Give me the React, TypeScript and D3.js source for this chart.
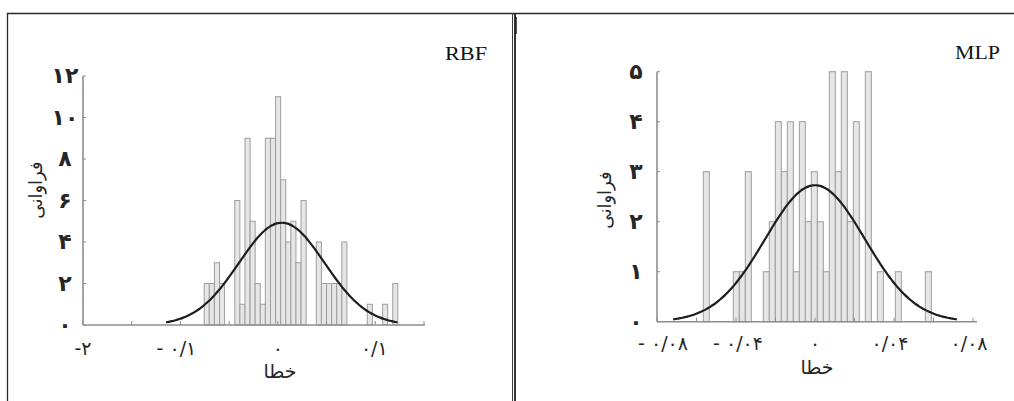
import React, { useEffect, useRef } from 'react';
import * as d3 from 'd3';

// RBF panel: error histogram counts per bin
const rbfCounts = [2, 2, 3, 2, 0, 0, 6, 1, 9, 5, 2, 1, 9, 9, 11, 7, 4, 5, 3, 6, 0, 0, 4, 2, 2, 2, 2, 4, 0, 0, 0, 0, 1, 0, 0, 1, 0, 2];
const rbfBinStart = -0.0756;
const rbfBinWidth = 0.00523;
const rbfYTicks = [0, 2, 4, 6, 8, 10, 12];
const rbfYTickLabels = ['۰', '۲', '۴', '۶', '۸', '۱۰', '۱۲'];
const rbfXTicks = [-0.2, -0.1, 0, 0.1];
const rbfXTickLabels = ['-۲', '- ۰/۱', '۰', '۰/۱'];
const rbfNormal = { mean: 0.004, sd: 0.044, peak: 4.93, span: 2.7 };

// MLP panel
const mlpCounts = [3, 0, 0, 0, 0, 1, 1, 3, 0, 0, 1, 2, 4, 3, 4, 1, 4, 2, 3, 2, 1, 5, 3, 5, 2, 4, 0, 5, 0, 1, 0, 0, 1, 0, 0, 0, 0, 1];
const mlpBinStart = -0.05656;
const mlpBinWidth = 0.003038;
const mlpYTicks = [0, 1, 2, 3, 4, 5];
const mlpYTickLabels = ['۰', '۱', '۲', '۳', '۴', '۵'];
const mlpXTicks = [-0.08, -0.04, 0, 0.04, 0.08];
const mlpXTickLabels = ['- ۰/۰۸', '- ۰/۰۴', '۰', '۰/۰۴', '۰/۰۸'];
const mlpNormal = { mean: 0, sd: 0.0252, peak: 2.73, span: 2.85 };

const FA_FONT = '"DejaVu Sans", sans-serif';
const TEXT = '#262626';

function drawPanel(svg: any, cfg: any) {
  const x = d3.scaleLinear().domain(cfg.xDomain).range(cfg.xRange);
  const y = d3.scaleLinear().domain(cfg.yDomain).range(cfg.yRange);
  const g = svg.append('g');

  // bars
  const bw = x(cfg.binWidth) - x(0);
  g.selectAll('.bar')
    .data(cfg.counts.map((c: number, i: number) => ({ c, x0: cfg.binStart + i * cfg.binWidth })).filter((d: any) => d.c > 0))
    .enter()
    .append('rect')
    .attr('x', (d: any) => x(d.x0))
    .attr('y', (d: any) => y(d.c))
    .attr('width', bw)
    .attr('height', (d: any) => y(0) - y(d.c))
    .attr('fill', '#e6e6e6')
    .attr('stroke', '#9e9e9e')
    .attr('stroke-width', 1);

  // axes
  const [x0, x1] = cfg.xRange;
  const [yb, yt] = cfg.yRange;
  g.append('line').attr('x1', x0).attr('x2', x1).attr('y1', yb).attr('y2', yb)
    .attr('stroke', '#8f8f8f').attr('stroke-width', 1.6);
  g.append('line').attr('x1', x0).attr('x2', x0).attr('y1', yb).attr('y2', yt)
    .attr('stroke', '#8f8f8f').attr('stroke-width', 1.6);

  // minor x ticks (pointing up)
  g.selectAll('.xt')
    .data(d3.range(cfg.xDomain[0], cfg.xDomain[1] + 1e-9, cfg.minorStep))
    .enter()
    .append('line')
    .attr('x1', (d: number) => x(d)).attr('x2', (d: number) => x(d))
    .attr('y1', yb).attr('y2', yb - 4)
    .attr('stroke', '#8f8f8f').attr('stroke-width', 1);

  // y ticks (pointing right)
  g.selectAll('.yt')
    .data(cfg.yTicks)
    .enter()
    .append('line')
    .attr('x1', x0).attr('x2', x0 + 3)
    .attr('y1', (d: number) => y(d)).attr('y2', (d: number) => y(d))
    .attr('stroke', '#8f8f8f').attr('stroke-width', 1);

  // normal curve
  const n = cfg.normal;
  const pts = d3.range(0, 121).map((k) => n.mean - n.span * n.sd + (k * 2 * n.span * n.sd) / 120);
  const line = d3.line<number>()
    .x((d) => x(d))
    .y((d) => y(n.peak * Math.exp(-0.5 * ((d - n.mean) / n.sd) ** 2)))
    .curve(d3.curveBasis);
  g.append('path')
    .datum(pts)
    .attr('fill', 'none')
    .attr('stroke', '#1e1e1e')
    .attr('stroke-width', 2.2)
    .attr('d', line);

  // y tick labels
  g.selectAll('.yl')
    .data(cfg.yTicks)
    .enter()
    .append('text')
    .attr('x', cfg.yLabelX)
    .attr('y', (d: number) => y(d) + 7)
    .attr('text-anchor', 'middle')
    .style('font-family', FA_FONT)
    .style('font-size', '22px')
    .style('font-weight', 'bold')
    .attr('fill', TEXT)
    .text((_: number, i: number) => cfg.yTickLabels[i]);

  // x tick labels
  g.selectAll('.xl')
    .data(cfg.xTicks)
    .enter()
    .append('text')
    .attr('x', (d: number, i: number) => x(d) + (cfg.xLabelDx ? cfg.xLabelDx[i] : 0))
    .attr('y', cfg.xLabelY)
    .attr('text-anchor', 'middle')
    .attr('direction', 'ltr')
    .style('font-family', FA_FONT)
    .style('font-size', '19px')
    .attr('fill', TEXT)
    .text((_: number, i: number) => cfg.xTickLabels[i]);

  // axis titles
  g.append('text')
    .attr('x', cfg.xTitle[0]).attr('y', cfg.xTitle[1])
    .attr('text-anchor', 'middle')
    .style('font-family', FA_FONT)
    .style('font-size', '19px')
    .attr('fill', TEXT)
    .text('خطا');

  g.append('text')
    .attr('transform', `translate(${cfg.yTitle[0]},${cfg.yTitle[1]}) rotate(-90)`)
    .attr('text-anchor', 'middle')
    .attr('dy', '0.35em')
    .style('font-family', FA_FONT)
    .style('font-size', '18px')
    .attr('fill', TEXT)
    .text('فراوانی');

  // model name
  g.append('text')
    .attr('x', cfg.title[0]).attr('y', cfg.title[1])
    .attr('textLength', cfg.title[2])
    .attr('lengthAdjust', 'spacingAndGlyphs')
    .style('font-family', '"Liberation Serif", serif')
    .style('font-size', '18px')
    .attr('fill', '#111')
    .text(cfg.name);
}

const App = () => {
  const svgRef = useRef<SVGSVGElement | null>(null);

  useEffect(() => {
    const svg = d3.select(svgRef.current);
    svg.selectAll('*').remove();

    // frame
    svg.append('line').attr('x1', 7).attr('x2', 1014).attr('y1', 13.5).attr('y2', 13.5)
      .attr('stroke', '#2a2a2a').attr('stroke-width', 1.5);
    svg.append('line').attr('x1', 7.5).attr('x2', 7.5).attr('y1', 13).attr('y2', 401)
      .attr('stroke', '#2a2a2a').attr('stroke-width', 1.3);
    svg.append('line').attr('x1', 512.5).attr('x2', 512.5).attr('y1', 13).attr('y2', 401)
      .attr('stroke', '#3a3a3a').attr('stroke-width', 1);
    svg.append('line').attr('x1', 515).attr('x2', 515).attr('y1', 13).attr('y2', 401)
      .attr('stroke', '#1e1e1e').attr('stroke-width', 1.8);
    svg.append('line').attr('x1', 516).attr('x2', 516).attr('y1', 17).attr('y2', 34)
      .attr('stroke', '#1e1e1e').attr('stroke-width', 1.5);

    drawPanel(svg, {
      name: 'RBF',
      counts: rbfCounts, binStart: rbfBinStart, binWidth: rbfBinWidth,
      xDomain: [-0.2, 0.151], xRange: [83, 425],
      yDomain: [0, 12], yRange: [325, 76],
      minorStep: 0.05,
      yTicks: rbfYTicks, yTickLabels: rbfYTickLabels,
      xTicks: rbfXTicks, xTickLabels: rbfXTickLabels,
      xLabelDx: [0, -4, 0, -1],
      normal: rbfNormal,
      yLabelX: 65, xLabelY: 355,
      xTitle: [280, 378], yTitle: [36, 190],
      title: [445, 60, 42],
    });

    drawPanel(svg, {
      name: 'MLP',
      counts: mlpCounts, binStart: mlpBinStart, binWidth: mlpBinWidth,
      xDomain: [-0.08, 0.082], xRange: [657, 977],
      yDomain: [0, 5], yRange: [321.7, 71.7],
      minorStep: 0.02,
      yTicks: mlpYTicks, yTickLabels: mlpYTickLabels,
      xTicks: mlpXTicks, xTickLabels: mlpXTickLabels,
      xLabelDx: [6, 2, 0, -4, -4],
      normal: mlpNormal,
      yLabelX: 636, xLabelY: 350,
      xTitle: [817, 374], yTitle: [605, 200],
      title: [955, 59, 45],
    });
  }, []);

  return (
    <svg
      ref={svgRef}
      width={1014}
      height={401}
      style={{ position: 'absolute', left: 0, top: 0, background: '#fff' }}
    />
  );
};

export default App;
